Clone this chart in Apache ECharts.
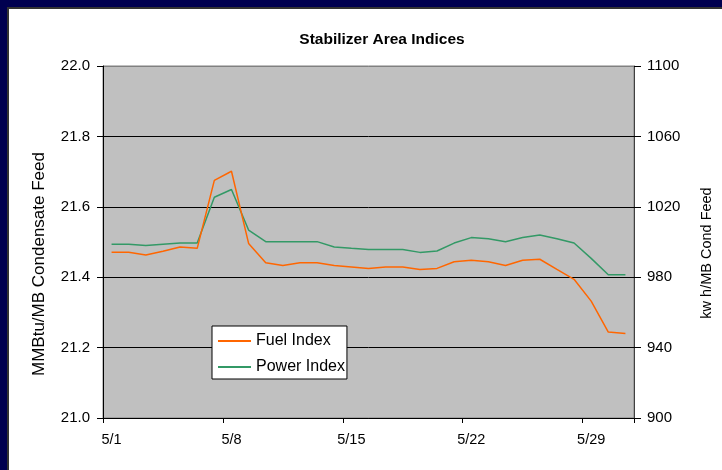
<!DOCTYPE html>
<html>
<head>
<meta charset="utf-8">
<script src="https://cdn.jsdelivr.net/npm/echarts@6/dist/echarts.min.js"></script>
<style>
  html, body { margin: 0; padding: 0; background: #ffffff; }
  #main { width: 722px; height: 470px; }
</style>
</head>
<body>
<div id="main"></div>
<script>
// days of May
var dates = ["5/1", "5/2", "5/3", "5/4", "5/5", "5/6", "5/7", "5/8", "5/9", "5/10",
  "5/11", "5/12", "5/13", "5/14", "5/15", "5/16", "5/17", "5/18", "5/19", "5/20",
  "5/21", "5/22", "5/23", "5/24", "5/25", "5/26", "5/27", "5/28", "5/29", "5/30", "5/31"];

// MMBtu/MB condensate feed
var fuelIndex = [21.471, 21.471, 21.463, 21.474, 21.486, 21.482, 21.675, 21.701, 21.496, 21.441,
  21.433, 21.441, 21.441, 21.433, 21.429, 21.425, 21.429, 21.429, 21.422, 21.425,
  21.444, 21.448, 21.444, 21.433, 21.448, 21.451, 21.422, 21.394, 21.332, 21.244, 21.240];

// kw h/MB cond feed
var powerIndex = [998.7, 998.7, 998.0, 998.7, 999.4, 999.4, 1025.4, 1029.8, 1006.8, 1000.2,
  1000.2, 1000.2, 1000.2, 997.2, 996.4, 995.7, 995.7, 995.7, 994.1, 994.9,
  999.4, 1002.5, 1001.8, 1000.2, 1002.5, 1004.0, 1001.8, 999.4, 990.7, 981.4, 981.4];

var leftTicks = [21.0, 21.2, 21.4, 21.6, 21.8, 22.0];
var rightTicks = [900, 940, 980, 1020, 1060, 1100];

var fontFamily = "Liberation Sans, Arial, sans-serif";

var myChart = echarts.init(document.getElementById("main"));

var option = {
  backgroundColor: "#ffffff",
  animation: false,
  textStyle: { fontFamily: fontFamily },
  title: {
    text: "Stabilizer Area Indices",
    left: 377,
    textAlign: "center",
    top: 27,
    textStyle: { fontSize: 15.5, fontWeight: "bold", color: "#000000", fontFamily: fontFamily }
  },
  graphic: [
    // navy frame on the left and top edge
    { type: "rect", left: 0, top: 0, shape: { width: 9, height: 470 }, style: { fill: "#333333" }, z: 100 },
    { type: "rect", left: 0, top: 0, shape: { width: 722, height: 9 }, style: { fill: "#333333" }, z: 100 },
    { type: "rect", left: 0, top: 0, shape: { width: 7, height: 470 }, style: { fill: "#000050" }, z: 101 },
    { type: "rect", left: 0, top: 0, shape: { width: 722, height: 7 }, style: { fill: "#000050" }, z: 101 },
    // axis titles
    {
      type: "text", x: 39, y: 264, rotation: Math.PI / 2,
      style: {
        text: "MMBtu/MB Condensate Feed", fill: "#000000", font: "17px " + fontFamily,
        align: "center", verticalAlign: "middle"
      }
    },
    {
      type: "text", x: 707, y: 253, rotation: Math.PI / 2,
      style: {
        text: "kw h/MB Cond Feed", fill: "#000000", font: "14.5px " + fontFamily,
        align: "center", verticalAlign: "middle"
      }
    }
  ],
  legend: {
    orient: "vertical",
    left: 212,
    top: 326,
    backgroundColor: "#ffffff",
    borderColor: "#000000",
    borderWidth: 1,
    padding: [7, 2, 4, 6],
    itemGap: 10,
    itemWidth: 33,
    itemHeight: 2,
    icon: "rect",
    textStyle: { fontSize: 16, color: "#000000", fontFamily: fontFamily },
    data: ["Fuel Index", "Power Index"]
  },
  grid: {
    left: 103,
    right: 88,
    top: 66,
    bottom: 52,
    show: true,
    backgroundColor: "#c0c0c0",
    borderColor: "#808080",
    borderWidth: 1
  },
  xAxis: {
    type: "category",
    data: dates,
    boundaryGap: true,
    axisLine: { lineStyle: { color: "#000000", width: 1 } },
    axisTick: { show: true, interval: 6, length: 5, lineStyle: { color: "#000000" } },
    axisLabel: { interval: 6, color: "#000000", fontSize: 14.5, margin: 14, fontFamily: fontFamily },
    splitLine: { show: false }
  },
  yAxis: [
    {
      type: "value",
      min: leftTicks[0],
      max: leftTicks[leftTicks.length - 1],
      interval: 0.2,
      axisLine: { show: true, lineStyle: { color: "#000000" } },
      axisTick: { show: true, length: 6, lineStyle: { color: "#000000" } },
      axisLabel: {
        color: "#000000",
        fontSize: 15,
        margin: 13,
        fontFamily: fontFamily,
        formatter: function (v) { return v.toFixed(1); }
      },
      splitLine: {
        show: true,
        lineStyle: { color: ["#000000", "#000000", "#000000", "#000000", "#000000", "#808080"], width: 1 }
      }
    },
    {
      type: "value",
      min: rightTicks[0],
      max: rightTicks[rightTicks.length - 1],
      interval: 40,
      axisLine: { show: true, lineStyle: { color: "#404040" } },
      axisTick: { show: true, length: 7, lineStyle: { color: "#000000" } },
      axisLabel: {
        color: "#000000", fontSize: 15, margin: 13, fontFamily: fontFamily,
        formatter: function (v) { return String(v); }
      },
      splitLine: { show: false }
    }
  ],
  series: [
    {
      name: "Fuel Index",
      type: "line",
      yAxisIndex: 0,
      data: fuelIndex,
      symbol: "none",
      color: "#ff6600",
      lineStyle: { color: "#ff6600", width: 1.5 },
      z: 3
    },
    {
      name: "Power Index",
      type: "line",
      yAxisIndex: 1,
      data: powerIndex,
      symbol: "none",
      color: "#339966",
      lineStyle: { color: "#339966", width: 1.5 },
      z: 2
    }
  ]
};

myChart.setOption(option);
window.addEventListener("resize", function () {
  myChart.resize();
});
</script>
</body>
</html>
